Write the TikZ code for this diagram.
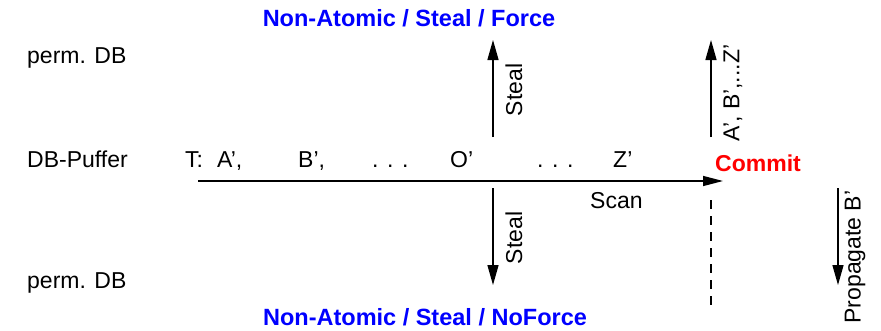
\documentclass[tikz,border=0pt]{standalone}
\usepackage{fontspec}
\setmainfont{Liberation Sans}
\usetikzlibrary{arrows.meta}

\begin{document}
\begin{tikzpicture}[x=1pt,y=-1pt,
    lbl/.style={font=\fontsize{23}{27}\selectfont, inner sep=0pt},
    ttl/.style={font=\fontsize{23.5}{27}\selectfont\bfseries, inner sep=0pt, text=blue},
    arr/.style={line width=1.4pt, -{Triangle[length=20pt,width=11pt]}}]
  \useasboundingbox (0,0) rectangle (881,330);

  % titles
  \node[ttl] (force) at (409,18) {Non-Atomic / Steal / Force};
  \node[ttl, anchor=base] (noforce) at (425,325) {Non-Atomic / Steal / NoForce};

  % levels
  \node[lbl, anchor=west] (permtop) at (27,58) {perm. DB};
  \node[lbl, anchor=base west] (puffer) at (27,167) {DB-Puffer};
  \node[lbl, anchor=west] (permbot) at (27,283) {perm. DB};

  % transaction
  \foreach \x/\t/\n in {185/{T:}/t, 217/{A’,}/a, 298/{B’,}/b, 372/{. . .}/dA,
                        450/{O’}/o, 537/{. . .}/dB, 613/{Z’}/z}
    \node[lbl, anchor=base west] (\n) at (\x,167) {\t};

  % scan
  \coordinate (scanS) at (198,181);
  \coordinate (scanE) at (723,181);
  \draw[arr, -{Triangle[length=20pt,width=10pt]}] (scanS) -- (scanE);
  \node[lbl, anchor=base west] (scan) at (590,208) {Scan};

  % steal
  \coordinate (stealUpS) at (493,137);
  \coordinate (stealUpE) at (493,40);
  \draw[arr] (stealUpS) -- (stealUpE);
  \node[lbl, rotate=90] (stealUp) at (514,90) {Steal};
  \coordinate (stealDnS) at (493,188);
  \coordinate (stealDnE) at (493,285);
  \draw[arr] (stealDnS) -- (stealDnE);
  \node[lbl, rotate=90] (stealDn) at (514,238) {Steal};

  % commit
  \node[lbl, font=\fontsize{23}{27}\selectfont\bfseries, text=red] (commit) at (758,163) {Commit};
  \coordinate (forceS) at (711,137);
  \coordinate (forceE) at (711,40);
  \draw[arr] (forceS) -- (forceE);
  \node[lbl, rotate=90] (forceLbl) at (733,93) {A’, B’,...Z’};
  \coordinate (dashS) at (711,200);
  \coordinate (dashE) at (711,310);
  \draw[line width=1.2pt, dash pattern=on 9pt off 7pt] (dashS) -- (dashE);
  \coordinate (propS) at (838,188);
  \coordinate (propE) at (838,285);
  \draw[arr] (propS) -- (propE);
  \node[lbl, rotate=90] (propLbl) at (855,257) {Propagate B’};
\end{tikzpicture}
\end{document}
